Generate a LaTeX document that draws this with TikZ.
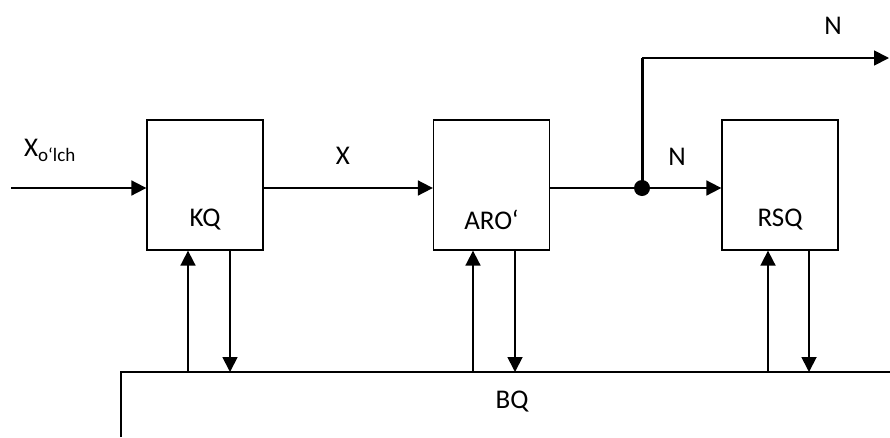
\documentclass[tikz,border=0pt]{standalone}
\usepackage{fontspec}
\setmainfont{Carlito}
\usetikzlibrary{arrows.meta}
\begin{document}
\begin{tikzpicture}[x=1pt,y=-1pt,
  font=\fontsize{27}{31}\selectfont,
  blk/.style={draw,line width=1.3pt,minimum width=116pt,minimum height=130pt,inner sep=0pt},
  conn/.style={line width=1.8pt,-{Triangle[length=15pt,width=15pt]}},
  thickline/.style={line width=3pt},
  lbl/.style={inner sep=0pt,anchor=center}]
\useasboundingbox (0,0) rectangle (890,437);
% blocks
\node[blk,label={[lbl,yshift=-35pt]center:KQ}] (kq) at (205,185) {};
\node[blk,label={[lbl,yshift=-35pt]center:ARO‘}] (aro) at (491.5,185) {};
\node[blk,label={[lbl,yshift=-35pt]center:RSQ}] (rsq) at (780,185) {};
% coordinates
\coordinate (in) at (11,188);
\coordinate (dot) at (642,188);
\coordinate (corner) at (642,58);
\coordinate (out) at (889,58);
\coordinate (bqa) at (121,437);
\coordinate (bqb) at (121,372);
\coordinate (bqc) at (890,372);
\coordinate (u1) at (188,372);
\coordinate (d1) at (230,372);
\coordinate (u2) at (473,372);
\coordinate (d2) at (515,372);
\coordinate (u3) at (768,372);
\coordinate (d3) at (809,372);
% BQ partial box
\draw[line width=1.8pt] (bqa) -- (bqb) -- (bqc);
\node[lbl] (bq) at (512,402) {BQ};
% horizontal chain
\draw[conn] (in) -- (in -| kq.west);
\draw[conn] (kq.east |- in) -- (aro.west |- in);
\draw[line width=1.8pt] (aro.east |- in) -- (dot);
\draw[conn] (dot) -- (rsq.west |- dot);
\draw[thickline] (dot) -- (corner);
\draw[conn] (corner) -- (out);
\fill (dot) circle (8pt);
% vertical arrows
\draw[conn] (u1) -- (u1 |- kq.south);
\draw[conn] (d1 |- kq.south) -- (d1);
\draw[conn] (u2) -- (u2 |- aro.south);
\draw[conn] (d2 |- aro.south) -- (d2);
\draw[conn] (u3) -- (u3 |- rsq.south);
\draw[conn] (d3 |- rsq.south) -- (d3);
% labels
\node[lbl] (xin) at (50,150) {X\textsubscript{\fontsize{19}{21}\selectfont o‘lch}};
\node[lbl] (xl) at (343,156) {X};
\node[lbl] (n1) at (677,157) {N};
\node[lbl] (n2) at (833,26) {N};
\end{tikzpicture}
\end{document}
